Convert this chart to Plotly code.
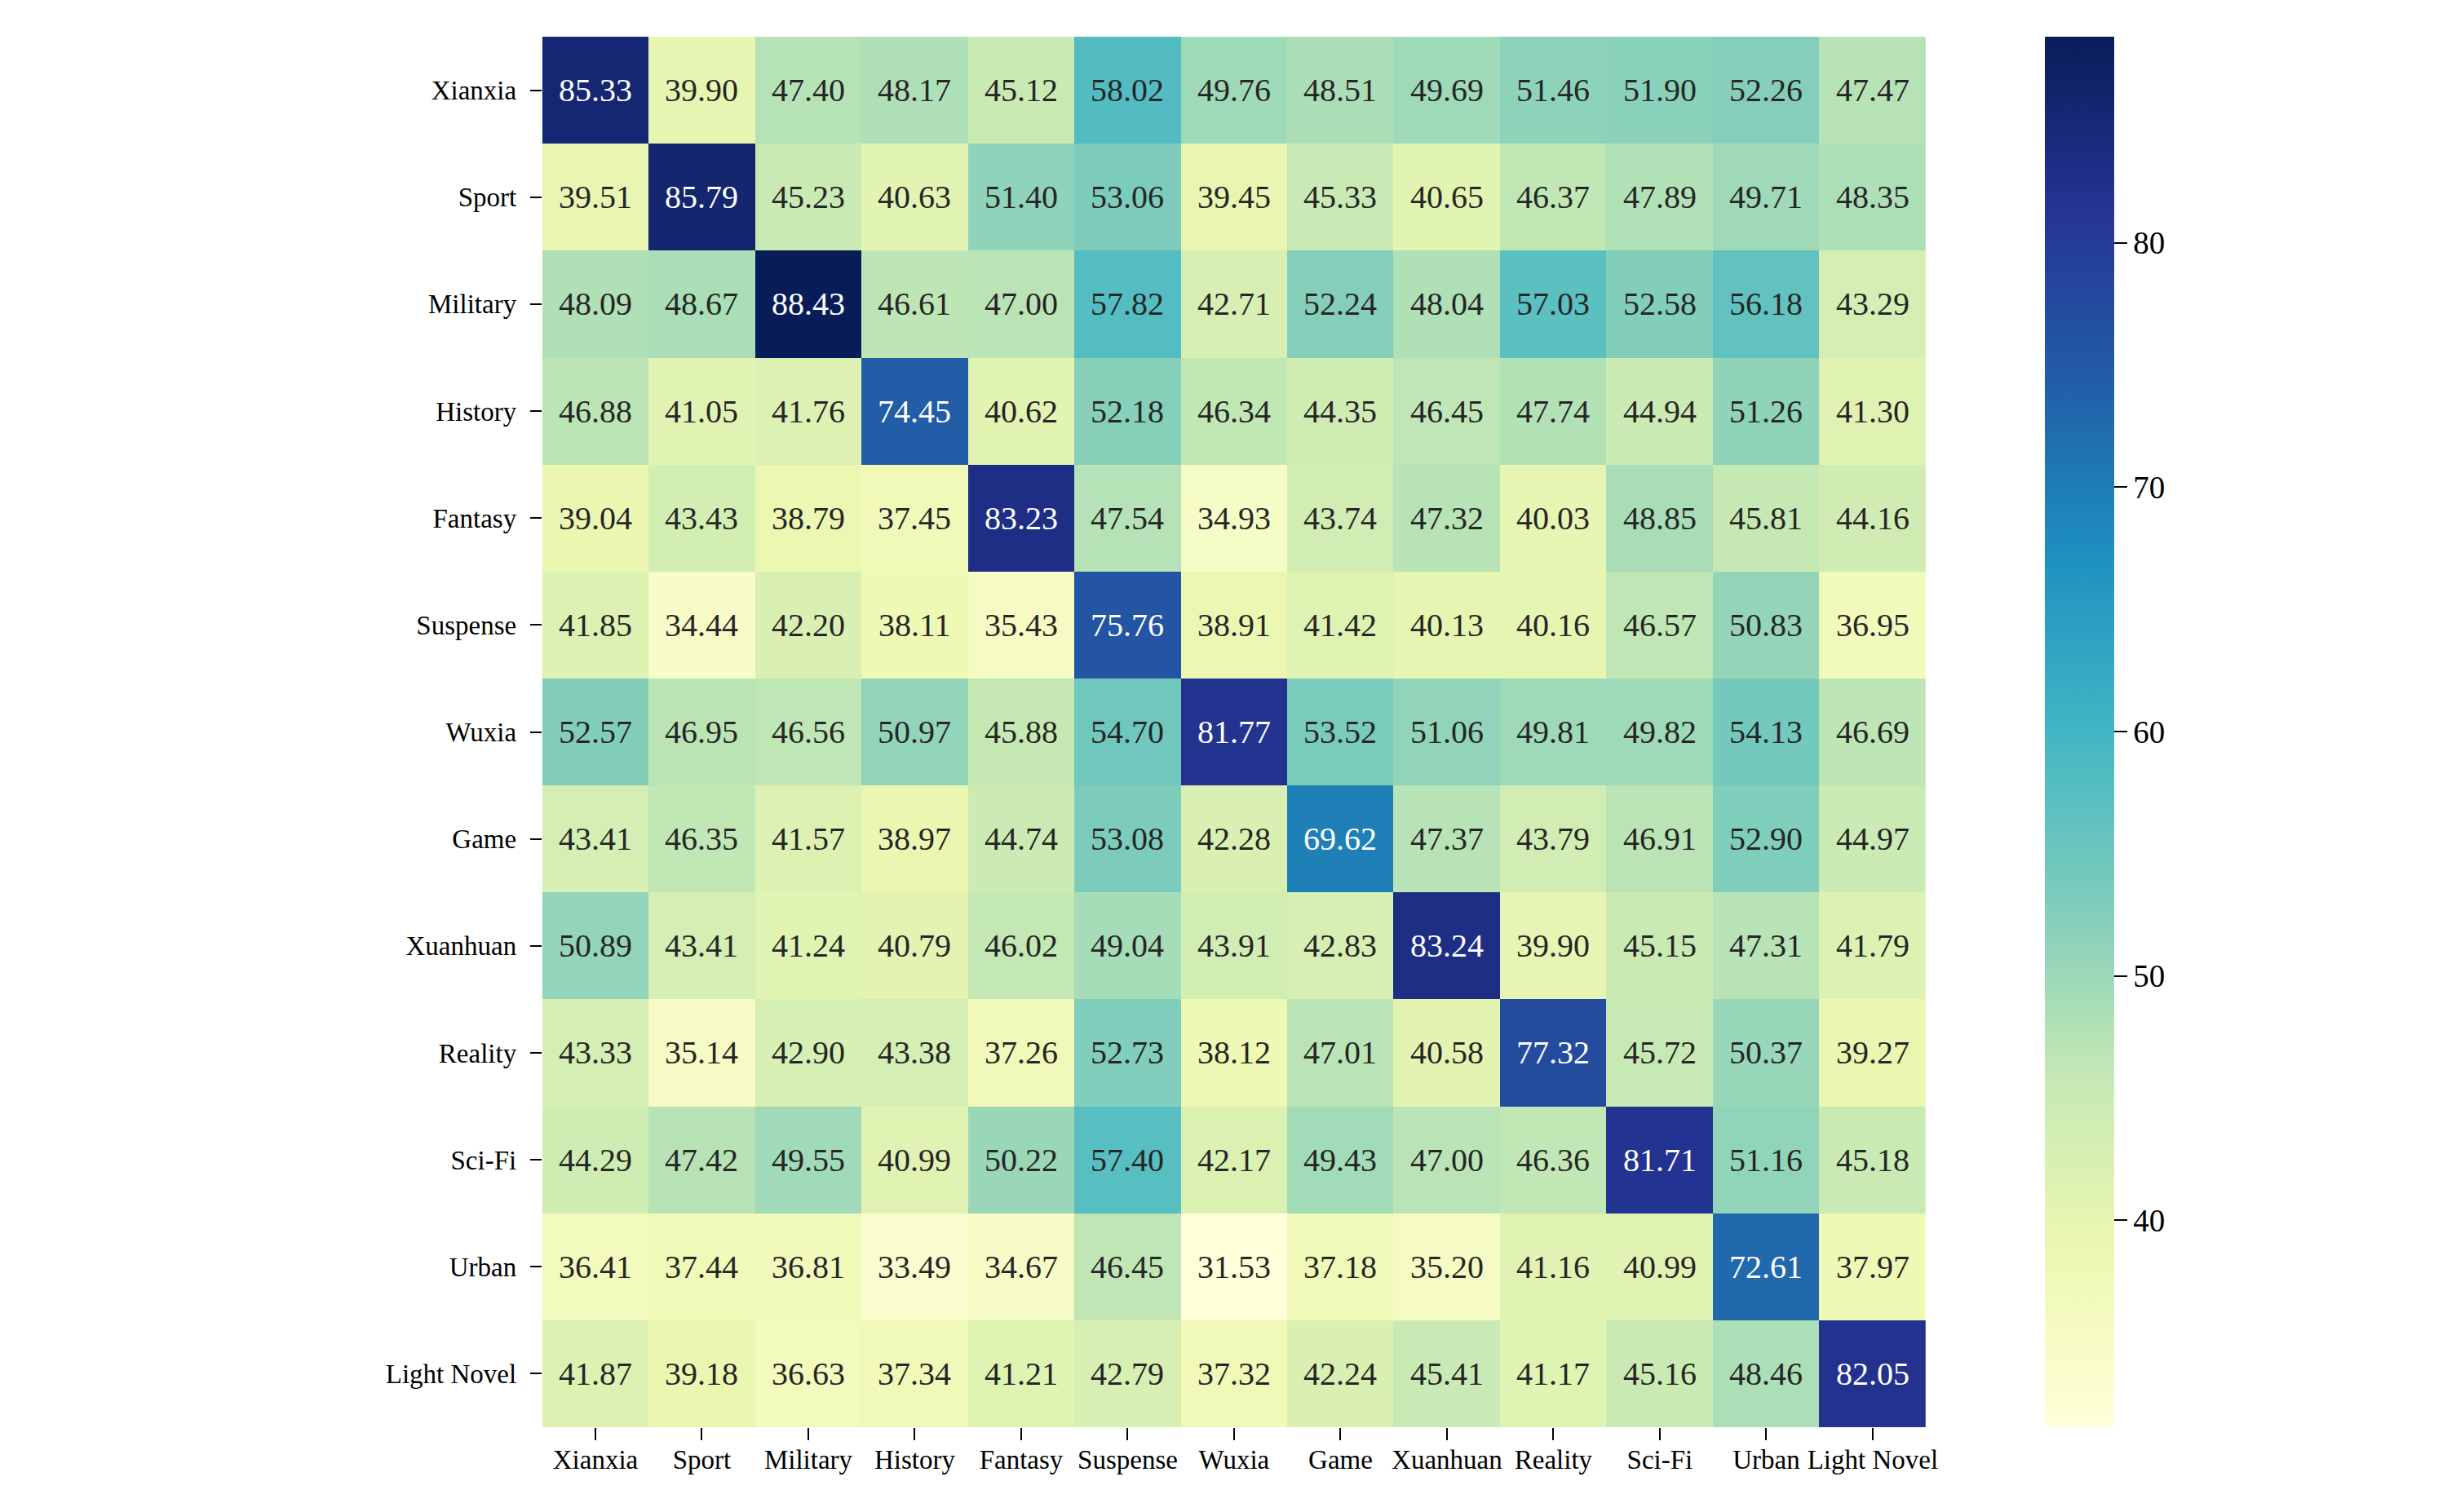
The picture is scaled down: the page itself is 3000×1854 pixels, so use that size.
import plotly.graph_objects as go

genres = ["Xianxia", "Sport", "Military", "History", "Fantasy", "Suspense", "Wuxia",
          "Game", "Xuanhuan", "Reality", "Sci-Fi", "Urban", "Light Novel"]

# one list per row (top to bottom), columns follow `genres`
xianxia = [85.33, 39.90, 47.40, 48.17, 45.12, 58.02, 49.76, 48.51, 49.69, 51.46, 51.90, 52.26, 47.47]
sport = [39.51, 85.79, 45.23, 40.63, 51.40, 53.06, 39.45, 45.33, 40.65, 46.37, 47.89, 49.71, 48.35]
military = [48.09, 48.67, 88.43, 46.61, 47.00, 57.82, 42.71, 52.24, 48.04, 57.03, 52.58, 56.18, 43.29]
history = [46.88, 41.05, 41.76, 74.45, 40.62, 52.18, 46.34, 44.35, 46.45, 47.74, 44.94, 51.26, 41.30]
fantasy = [39.04, 43.43, 38.79, 37.45, 83.23, 47.54, 34.93, 43.74, 47.32, 40.03, 48.85, 45.81, 44.16]
suspense = [41.85, 34.44, 42.20, 38.11, 35.43, 75.76, 38.91, 41.42, 40.13, 40.16, 46.57, 50.83, 36.95]
wuxia = [52.57, 46.95, 46.56, 50.97, 45.88, 54.70, 81.77, 53.52, 51.06, 49.81, 49.82, 54.13, 46.69]
game = [43.41, 46.35, 41.57, 38.97, 44.74, 53.08, 42.28, 69.62, 47.37, 43.79, 46.91, 52.90, 44.97]
xuanhuan = [50.89, 43.41, 41.24, 40.79, 46.02, 49.04, 43.91, 42.83, 83.24, 39.90, 45.15, 47.31, 41.79]
reality = [43.33, 35.14, 42.90, 43.38, 37.26, 52.73, 38.12, 47.01, 40.58, 77.32, 45.72, 50.37, 39.27]
scifi = [44.29, 47.42, 49.55, 40.99, 50.22, 57.40, 42.17, 49.43, 47.00, 46.36, 81.71, 51.16, 45.18]
urban = [36.41, 37.44, 36.81, 33.49, 34.67, 46.45, 31.53, 37.18, 35.20, 41.16, 40.99, 72.61, 37.97]
light_novel = [41.87, 39.18, 36.63, 37.34, 41.21, 42.79, 37.32, 42.24, 45.41, 41.17, 45.16, 48.46, 82.05]

z = [xianxia, sport, military, history, fantasy, suspense, wuxia,
     game, xuanhuan, reality, scifi, urban, light_novel]

ylgnbu = ["#ffffd9", "#edf8b1", "#c7e9b4", "#7fcdbb", "#41b6c4",
          "#1d91c0", "#225ea8", "#253494", "#081d58"]
cscale = [[i / (len(ylgnbu) - 1), c] for i, c in enumerate(ylgnbu)]

flat = [v for row in z for v in row]
zmin, zmax = min(flat), max(flat)

FONT = "Liberation Serif"

fig = go.Figure(
    go.Heatmap(
        z=z, x=genres, y=genres,
        colorscale=cscale, zmin=zmin, zmax=zmax,
        hoverinfo="skip",
        colorbar=dict(
            x=0.8397, xanchor="left", thickness=85, xpad=0, ypad=0,
            y=0.5159, yanchor="middle", len=0.9196, lenmode="fraction",
            outlinewidth=0,
            ticks="outside", ticklen=16, tickwidth=2, tickcolor="black",
            tickvals=[40, 50, 60, 70, 80],
            tickfont=dict(family=FONT, size=39, color="black"),
        ),
    )
)

annotations = []
for r, row in enumerate(z):
    for c, v in enumerate(row):
        annotations.append(dict(
            x=genres[c], y=genres[r], text=f"{v:.2f}", showarrow=False,
            font=dict(family=FONT, size=40,
                      color="white" if v > 62 else "#262626"),
        ))

fig.update_layout(
    width=3000, height=1854,
    margin=dict(l=0, r=0, t=0, b=0),
    paper_bgcolor="white", plot_bgcolor="white",
    annotations=annotations,
    xaxis=dict(
        domain=[0.2227, 0.791], showgrid=False, zeroline=False, showline=False,
        ticks="outside", ticklen=15, tickwidth=2, tickcolor="black",
        tickfont=dict(family=FONT, size=33, color="black"), tickangle=0,
        ticklabelstandoff=-5,
    ),
    yaxis=dict(
        domain=[0.0561, 0.9757], autorange="reversed",
        showgrid=False, zeroline=False, showline=False,
        ticks="outside", ticklen=14, tickwidth=2, tickcolor="black",
        tickfont=dict(family=FONT, size=33, color="black"),
        ticklabelstandoff=10,
    ),
)

fig.write_html("out.html", config={"displayModeBar": False},
               post_script="document.body.style.margin='0';")
